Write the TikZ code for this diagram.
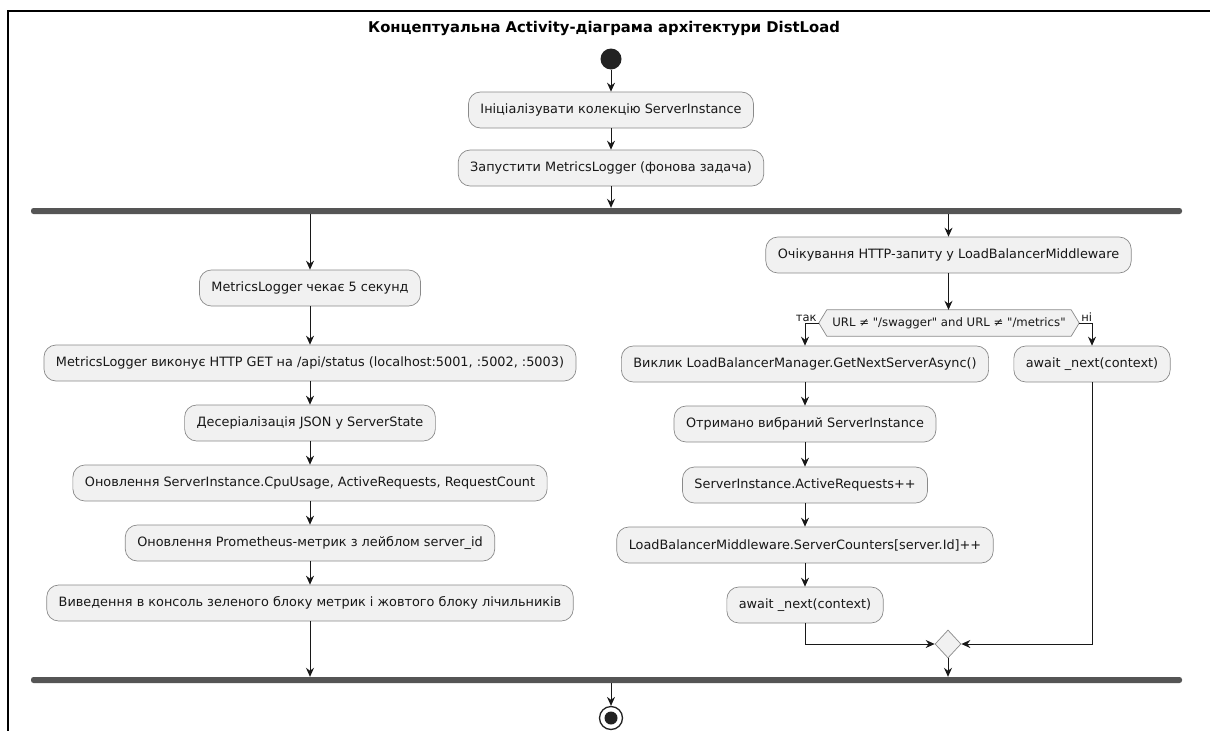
\documentclass[tikz,border=0pt]{standalone}
\usepackage{fontspec}
\setmainfont{DejaVu Sans}
\newfontfamily\dvplain{DejaVu Sans}
\usetikzlibrary{arrows.meta,shapes.geometric}
\definecolor{boxfill}{HTML}{F1F1F1}
\definecolor{boxline}{HTML}{8A8A8A}
\definecolor{ink}{HTML}{181818}
\definecolor{barcol}{HTML}{555555}
\definecolor{dotcol}{HTML}{222222}
\tikzset{
  act/.style={draw=boxline, fill=boxfill, line width=0.7pt, rounded corners=12pt,
    minimum height=36pt, inner xsep=12pt, inner ysep=0pt, font=\fontsize{12.85}{15}\selectfont, text=ink},
  arr/.style={draw=ink, line width=0.9pt, -{Stealth[length=9pt,width=8pt,inset=3pt]}},
  syncbar/.style={fill=barcol, draw=none, rounded corners=2.5pt, minimum height=6pt, inner sep=0pt},
  lbl/.style={font=\fontsize{11.5}{13}\selectfont, text=ink, inner sep=1pt},
}
\begin{document}
\begin{tikzpicture}[x=1pt,y=-1pt]
\useasboundingbox (0,0) rectangle (1210,731);
\fill[white] (0,0) rectangle (1210,731);
% frame
\draw[black, line width=1.6pt] (1210,11) -- (8,11) -- (8,731);
% title
\node[font=\bfseries\fontsize{14.8}{17}\selectfont, text=black] (title) at (604,28) {Концептуальна Activity-діаграма архітектури DistLoad};
% start
\node[circle, fill=dotcol, minimum size=21pt, inner sep=0pt] (start) at (611,59) {};
\node[act] (init) at (611,110) {Ініціалізувати колекцію ServerInstance};
\node[act] (launch) at (611,168) {Запустити MetricsLogger (фонова задача)};
\node[syncbar, minimum width=1151pt] (fork) at (606.5,211) {};
% left branch
\node[act] (wait5) at (310,288) {MetricsLogger чекає 5 секунд};
\node[act] (get) at (310,363) {MetricsLogger виконує HTTP GET на /api/status (localhost:5001, :5002, :5003)};
\node[act] (deser) at (310,423) {Десеріалізація JSON у ServerState};
\node[act] (upd) at (310,483) {Оновлення ServerInstance.CpuUsage, ActiveRequests, RequestCount};
\node[act] (prom) at (310,543) {Оновлення Prometheus-метрик з лейблом server\_id};
\node[act] (cons) at (310,603) {Виведення в консоль зеленого блоку метрик і жовтого блоку лічильників};
% right branch
\node[act] (waitreq) at (948.5,255) {Очікування HTTP-запиту у LoadBalancerMiddleware};
\node[minimum width=244pt, minimum height=26pt, inner sep=0pt] (cond) at (949,323) {};
\coordinate (condL) at ([xshift=-8pt]cond.west);
\coordinate (condR) at ([xshift=8pt]cond.east);
\filldraw[draw=boxline, fill=boxfill, line width=0.7pt] (cond.north west) -- (cond.north east) -- (condR) -- (cond.south east) -- (cond.south west) -- (condL) -- cycle;
\node[font=\dvplain\fontsize{11.7}{14}\selectfont, text=ink, inner sep=0pt] (condtext) at (cond.center) {URL ≠ "/swagger" and URL ≠ "/metrics"};
\node[act] (call) at (805,364) {Виклик LoadBalancerManager.GetNextServerAsync()};
\node[act] (nextR) at (1092,364) {await \_next(context)};
\node[act] (got) at (805,424) {Отримано вибраний ServerInstance};
\node[act] (inc) at (805,485) {ServerInstance.ActiveRequests++};
\node[act] (cnt) at (805,545) {LoadBalancerMiddleware.ServerCounters[server.Id]++};
\node[act] (nextL) at (805,605) {await \_next(context)};
\node[diamond, draw=boxline, fill=boxfill, line width=0.7pt, minimum width=26pt, minimum height=28pt, inner sep=0pt, aspect=0.93] (merge) at (948,644) {};
\node[syncbar, minimum width=1151pt] (join) at (606.5,680) {};
% end
\node[circle, draw=dotcol, line width=1.3pt, minimum size=23pt, inner sep=0pt] (stop) at (611,718) {};
\fill[dotcol] (stop.center) circle (6.5pt);
% labels
\node[lbl, anchor=south east] (yes) at ([xshift=-1pt]condL) {так};
\node[lbl, anchor=south west] (no) at ([xshift=1pt]condR) {ні};
% connectors
\draw[arr] (start) -- (init);
\draw[arr] (init) -- (launch);
\draw[arr] (launch) -- (launch.south |- fork.north);
\draw[arr] (wait5.north |- fork.south) -- (wait5.north);
\draw[arr] (wait5) -- (get);
\draw[arr] (get) -- (deser);
\draw[arr] (deser) -- (upd);
\draw[arr] (upd) -- (prom);
\draw[arr] (prom) -- (cons);
\draw[arr] (cons) -- (cons.south |- join.north);
\draw[arr] (waitreq.north |- fork.south) -- (waitreq.north);
\draw[arr] (waitreq) -- (waitreq.south |- cond.north);
\draw[arr] (condL) -| (call.north);
\draw[arr] (condR) -| (nextR.north);
\draw[arr] (call) -- (got);
\draw[arr] (got) -- (inc);
\draw[arr] (inc) -- (cnt);
\draw[arr] (cnt) -- (nextL);
\draw[arr] (nextL.south) |- (merge.west);
\draw[arr] (nextR.south) |- (merge.east);
\draw[arr] (merge.south) -- (merge.south |- join.north);
\draw[arr] (stop.north |- join.south) -- (stop.north);
\end{tikzpicture}
\end{document}
